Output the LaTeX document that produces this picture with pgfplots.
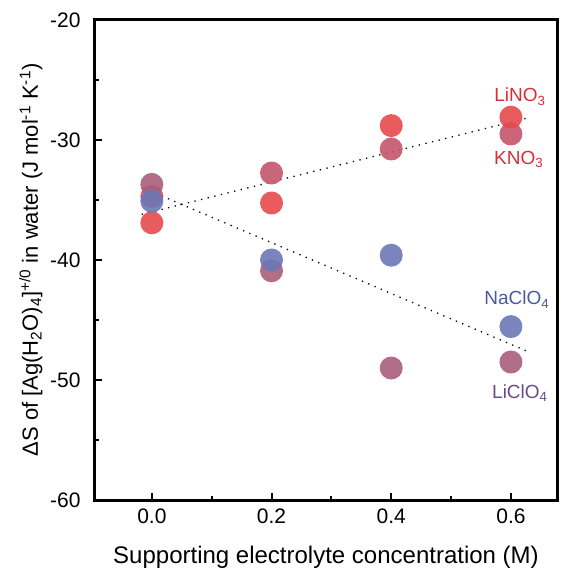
\documentclass[border=0pt]{standalone}
\usepackage{pgfplots}
\pgfplotsset{compat=1.18}
\usepackage{fontspec}
\setmainfont{Liberation Sans}
\definecolor{cLiNO}{RGB}{231,74,76}
\definecolor{cKNO}{RGB}{196,84,108}
\definecolor{cNa}{RGB}{108,119,182}
\definecolor{cLiCl}{RGB}{168,94,124}
\definecolor{tRed}{RGB}{220,45,55}
\definecolor{tBlue}{RGB}{75,90,160}
\definecolor{tPur}{RGB}{105,75,140}
\begin{document}
\begin{tikzpicture}
\path[use as bounding box] (-95pt,-73pt) rectangle (472pt,500pt);
\begin{axis}[scale only axis, width=462pt, height=480pt,
  xmin=-0.095, xmax=0.677, ymin=-60, ymax=-20,
  xtick={0,0.2,0.4,0.6}, xticklabels={0.0,0.2,0.4,0.6},
  ytick={-60,-50,-40,-30,-20}, yticklabels={-60,-50,-40,-30,-20},
  minor xtick={0.1,0.3,0.5}, minor ytick={-55,-45,-35,-25},
  tick pos=left, xtick align=inside, ytick align=inside,
  major tick length=7pt, minor tick length=4pt,
  every tick/.append style={black, line width=2pt},
  axis line style={line width=3pt},
  ticklabel style={font=\fontsize{21}{24}\selectfont},
  yticklabel style={anchor=east, xshift=-11pt},
  xticklabel style={anchor=north, yshift=-5pt},
  xlabel={Supporting electrolyte concentration (M)},
  ylabel={ΔS of [Ag(H\textsubscript{2}O)\textsubscript{4}]\textsuperscript{+/0} in water (J mol\textsuperscript{-1} K\textsuperscript{-1})},
  xlabel style={font=\fontsize{24}{27}\selectfont, at={([yshift=-63pt]axis description cs:0.5,0)}, anchor=base},
  ylabel style={font=\fontsize{22}{25}\selectfont, at={([xshift=-57pt]axis description cs:0,0.5)}, anchor=base},
  clip=false]
\addplot[only marks, mark=*, mark size=11.5pt, mark options={fill=cKNO, draw opacity=0, fill opacity=0.9}] coordinates {(0,-34.7) (0.2,-32.75) (0.4,-30.75) (0.6,-29.5)};
\addplot[only marks, mark=*, mark size=11.5pt, mark options={fill=cLiNO, draw opacity=0, fill opacity=0.9}] coordinates {(0,-36.9) (0.2,-35.25) (0.4,-28.8) (0.6,-28.1)};
\addplot[only marks, mark=*, mark size=11.5pt, mark options={fill=cLiCl, draw opacity=0, fill opacity=0.9}] coordinates {(0,-33.7) (0.2,-40.9) (0.4,-49.0) (0.6,-48.5)};
\addplot[only marks, mark=*, mark size=11.5pt, mark options={fill=cNa, draw opacity=0, fill opacity=0.9}] coordinates {(0,-35.1) (0.2,-40.0) (0.4,-39.6) (0.6,-45.55)};
\addplot[black, line width=1.3pt, dash pattern=on 1.3pt off 5.5pt] coordinates {(-0.017,-36.2) (0.625,-28.2)};
\addplot[black, line width=1.3pt, dash pattern=on 1.3pt off 5.5pt] coordinates {(-0.015,-34.0) (0.627,-47.6)};
\node[text=tRed, font=\fontsize{19}{22}\selectfont] at (axis cs:0.615,-26.4) {LiNO\textsubscript{3}};
\node[text=tRed, font=\fontsize{19}{22}\selectfont] at (axis cs:0.613,-31.6) {KNO\textsubscript{3}};
\node[text=tBlue, font=\fontsize{19}{22}\selectfont] at (axis cs:0.61,-43.3) {NaClO\textsubscript{4}};
\node[text=tPur, font=\fontsize{19}{22}\selectfont] at (axis cs:0.615,-51.1) {LiClO\textsubscript{4}};
\end{axis}
\end{tikzpicture}
\end{document}
